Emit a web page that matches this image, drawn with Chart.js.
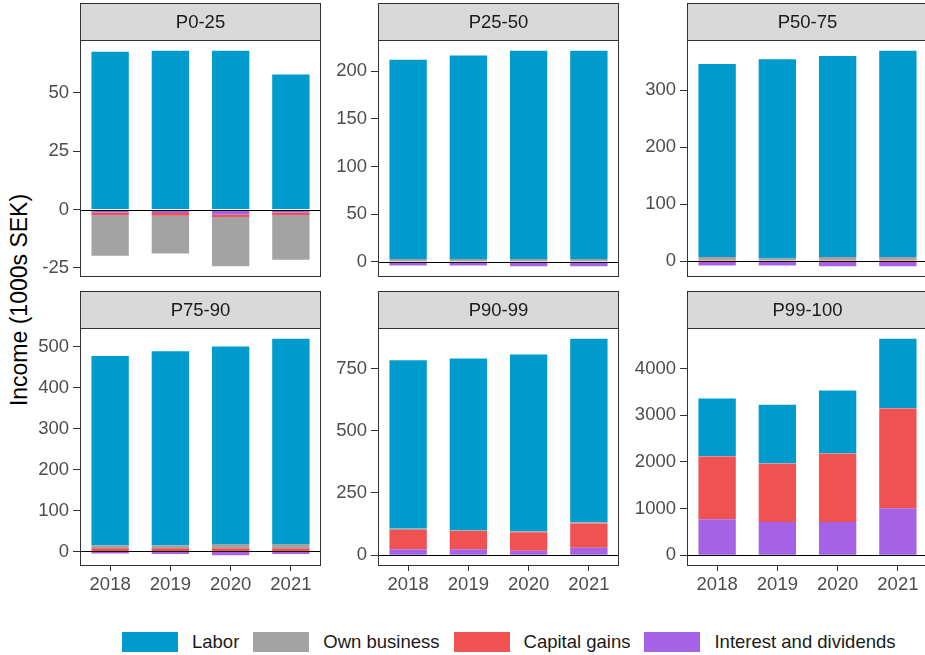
<!DOCTYPE html>
<html>
<head>
<meta charset="utf-8">
<script src="https://cdn.jsdelivr.net/npm/chart.js@4.4.1/dist/chart.umd.min.js"></script>
<style>
  html, body { margin: 0; padding: 0; background: #fff; }
  body { width: 925px; height: 655px; position: relative; overflow: hidden;
         font-family: "Liberation Sans", Arial, sans-serif; }
  canvas { position: absolute; }
  #ytitle { position: absolute; left: 19px; top: 300px; white-space: nowrap;
            transform: translate(-50%, -50%) rotate(-90deg);
            font-size: 23px; color: #000; }
  #legend { position: absolute; left: 122px; top: 632px; height: 20px;
            display: flex; align-items: center; font-size: 18.5px; color: #1a1a1a; }
  .key { width: 56px; height: 20px; margin-right: 14px; }
  .lab { margin-right: 14px; }
</style>
</head>
<body>
<div id="ytitle">Income (1000s SEK)</div>
<div id="legend"></div>
<script>
// Income composition by percentile group, 1000s SEK
const years = ["2018", "2019", "2020", "2021"];
const groups = ["P0-25", "P25-50", "P50-75", "P75-90", "P90-99", "P99-100"];
const seriesNames = ["Labor", "Own business", "Capital gains", "Interest and dividends"];
const seriesColors = ["#009BCD", "#A3A3A3", "#F05252", "#A562E7"];

// one row per group, one value per year
const labor = [
    [67.6, 68.0, 68.0, 57.8],
    [209.0, 213.5, 218.4, 218.4],
    [338.7, 349.3, 352.8, 362.0],
    [463.3, 475.0, 483.1, 502.1],
    [676, 690, 710, 737],
    [1236, 1258, 1350, 1486],
];
const ownBusiness = [
    [-17.4, -16.2, -21.1, -19.1],
    [2.2, 2.2, 2.2, 2.2],
    [4.5, 3.0, 4.5, 4.5],
    [6.7, 6.7, 9.9, 9.9],
    [5.4, 2.4, 3.6, 5.5],
    [10, 10, 10, 10],
];
const capitalGains = [
    [-1.1, -1.2, -1.1, -1.1],
    [0.8, 0.8, 0.8, 0.8],
    [2.5, 1.7, 2.5, 2.5],
    [8, 8, 8, 8],
    [77.6, 73.6, 75, 97.5],
    [1347, 1247, 1462, 2140],
];
const interest = [
    [-1.3, -1.5, -2.1, -1.3],
    [-3.8, -3.8, -4.6, -4.6],
    [-7.6, -7.6, -9.0, -8.9],
    [-5.0, -6.5, -9.2, -6.5],
    [24, 24, 17.4, 29.5],
    [771, 714, 714, 1007],
];
const yTicks = [
    [-25, 0, 25, 50],
    [0, 50, 100, 150, 200],
    [0, 100, 200, 300],
    [0, 100, 200, 300, 400, 500],
    [0, 250, 500, 750],
    [0, 1000, 2000, 3000, 4000],
];

// facet grid geometry
const COL_LEFT = [80, 378, 687];
const STRIP_TOP = [3, 291];
const PANEL_H = [237, 238];
const PANEL_W = 241;
const STRIP_H = 37;
const AXIS_W = 62;
const AXIS_H = 31;
const PAD_R = 6;
const PAD_B = 4;
const FONT = "'Liberation Sans', Arial, sans-serif";

Chart.defaults.font.family = FONT;

const panelDecor = {
    id: "panelDecor",
    afterDatasetsDraw(chart, args, opts) {
        const { ctx, chartArea: a } = chart;
        const y = chart.scales.y;
        const w = a.right - a.left;
        ctx.save();
        ctx.lineWidth = 1;
        // zero line
        const y0 = Math.round(y.getPixelForValue(0)) + 0.5;
        ctx.strokeStyle = "#000";
        ctx.beginPath();
        ctx.moveTo(a.left, y0);
        ctx.lineTo(a.right, y0);
        ctx.stroke();
        // strip
        ctx.fillStyle = "#D9D9D9";
        ctx.fillRect(a.left, 0, w, a.top);
        ctx.strokeStyle = "#333";
        ctx.strokeRect(a.left + 0.5, 0.5, w - 1, a.top);
        ctx.fillStyle = "#1A1A1A";
        ctx.font = "18.5px " + FONT;
        ctx.textAlign = "center";
        ctx.textBaseline = "middle";
        ctx.fillText(opts.title, a.left + w / 2, a.top / 2 + 1);
        // panel border
        ctx.strokeRect(a.left + 0.5, a.top + 0.5, w - 1, a.bottom - a.top - 1);
        ctx.restore();
    },
};

function yLimits(g) {
    let hi = 0, lo = 0;
    years.forEach((_, i) => {
        const vals = [labor[g][i], ownBusiness[g][i], capitalGains[g][i], interest[g][i]];
        hi = Math.max(hi, vals.filter((v) => v > 0).reduce((s, v) => s + v, 0));
        lo = Math.min(lo, vals.filter((v) => v < 0).reduce((s, v) => s + v, 0));
    });
    const pad = (hi - lo) * 0.05;
    return { min: lo - pad, max: hi + pad };
}

function drawPanel(g) {
    const row = Math.floor(g / 3);
    const col = g % 3;
    const bottomRow = row === 1;
    const canvas = document.createElement("canvas");
    const width = AXIS_W + PANEL_W + PAD_R;
    const height = STRIP_H + PANEL_H[row] + AXIS_H + PAD_B;
    canvas.width = width;
    canvas.height = height;
    canvas.style.left = (COL_LEFT[col] - AXIS_W) + "px";
    canvas.style.top = STRIP_TOP[row] + "px";
    document.body.appendChild(canvas);

    // stacking order from zero outwards: interest, capital gains, own business, labor
    const stackOrder = [
        [interest, 3],
        [capitalGains, 2],
        [ownBusiness, 1],
        [labor, 0],
    ];
    const datasets = stackOrder.map(([arr, s]) => ({
        label: seriesNames[s],
        data: arr[g],
        backgroundColor: seriesColors[s],
        borderWidth: 0,
        barPercentage: 0.62,
        categoryPercentage: 1.0,
    }));
    const lim = yLimits(g);
    const ticks = yTicks[g];

    new Chart(canvas, {
        type: "bar",
        data: { labels: years, datasets },
        plugins: [panelDecor],
        options: {
            responsive: false,
            animation: false,
            layout: { padding: { top: STRIP_H, right: PAD_R, bottom: PAD_B, left: 0 } },
            plugins: {
                legend: { display: false },
                tooltip: { enabled: false },
                panelDecor: { title: groups[g] },
            },
            scales: {
                x: {
                    stacked: true,
                    offset: true,
                    grid: { drawOnChartArea: false, drawTicks: bottomRow, tickLength: 5, color: "#333", offset: false },
                    border: { display: false },
                    ticks: { display: bottomRow, color: "#4D4D4D", font: { size: 18.5 }, padding: 3, maxRotation: 0, autoSkip: false },
                    afterFit(s) { s.height = AXIS_H; },
                },
                y: {
                    stacked: true,
                    min: lim.min,
                    max: lim.max,
                    afterBuildTicks(s) { s.ticks = ticks.map((v) => ({ value: v })); },
                    grid: { drawOnChartArea: false, tickLength: 7, color: "#333" },
                    border: { display: false },
                    ticks: {
                        color: "#4D4D4D",
                        font: { size: 18.5 },
                        padding: 4,
                        callback: (v) => String(v),
                    },
                    afterFit(s) { s.width = AXIS_W; },
                },
            },
        },
    });
}

groups.forEach((_, g) => drawPanel(g));

// legend, in ggplot order
const legend = document.getElementById("legend");
seriesNames.forEach((name, s) => {
    const key = document.createElement("div");
    key.className = "key";
    key.style.background = seriesColors[s];
    const lab = document.createElement("div");
    lab.className = "lab";
    lab.textContent = name;
    legend.appendChild(key);
    legend.appendChild(lab);
});
</script>
</body>
</html>
